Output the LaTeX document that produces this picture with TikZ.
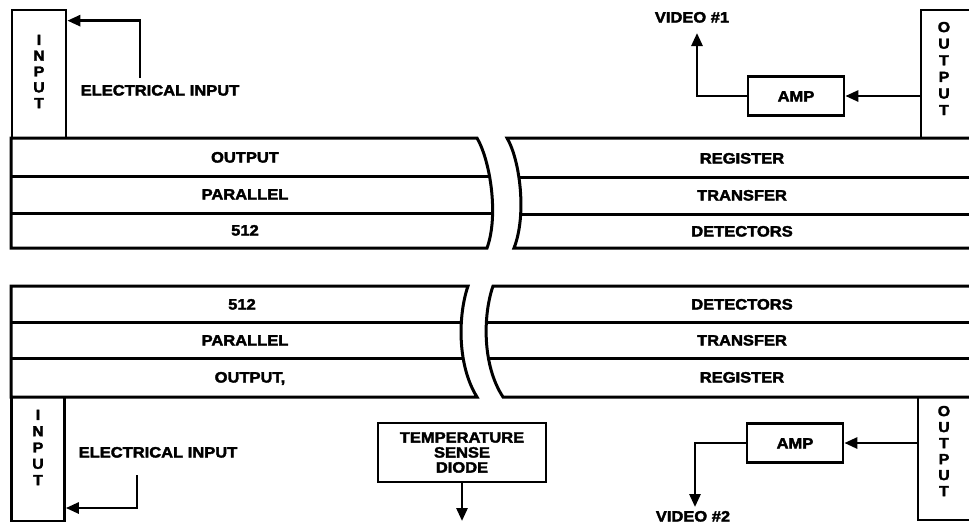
\documentclass[tikz,border=0pt]{standalone}
\usepackage{fontspec}
\setmainfont{Liberation Sans}[FakeStretch=1.1, BoldFeatures={FakeBold=2.5}]
\usetikzlibrary{arrows.meta}
\begin{document}
\begin{tikzpicture}[x=1pt,y=-1pt,
  ln/.style={line width=3pt},
  boxn/.style={draw, line width=2.7pt, inner sep=0pt},
  lbl/.style={font=\fontsize{15}{16}\selectfont\bfseries, inner sep=0pt, text height=11pt, text depth=0pt},
  stack/.style={font=\fontsize{14.5}{#1}\selectfont\bfseries, align=center, inner sep=0pt},
  arr/.style={line width=2.7pt, -{Triangle[length=13pt,width=11pt]}}]
\useasboundingbox (0,0) rectangle (969,523);
\fill[white] (0,0) rectangle (969,523);

% ---------- top block, left part
\begin{scope}
\clip (11,138) -- (477,138) .. controls (490,160) and (499,215) .. (487,248) -- (11,248) -- cycle;
\draw[ln] (0,176) -- (520,176) (0,213) -- (520,213);
\end{scope}
\draw[ln] (11,138) -- (477,138) .. controls (490,160) and (499,215) .. (487,248) -- (11,248) -- cycle;
% ---------- top block, right part
\begin{scope}
\clip (980,138) -- (507,138) .. controls (520,160) and (527,215) .. (514,248) -- (980,248) -- cycle;
\draw[ln] (490,177) -- (980,177) (490,214) -- (980,214);
\end{scope}
\draw[ln] (980,138) -- (507,138) .. controls (520,160) and (527,215) .. (514,248) -- (980,248);

% ---------- bottom block, left part
\begin{scope}
\clip (11,286) -- (468,286) .. controls (458,315) and (457,365) .. (477,397) -- (11,397) -- cycle;
\draw[ln] (0,322) -- (500,322) (0,358) -- (500,358);
\end{scope}
\draw[ln] (11,286) -- (468,286) .. controls (458,315) and (457,365) .. (477,397) -- (11,397) -- cycle;
% ---------- bottom block, right part
\begin{scope}
\clip (980,286) -- (493,286) .. controls (483,315) and (482,365) .. (503,397) -- (980,397) -- cycle;
\draw[ln] (470,322) -- (980,322) (470,358) -- (980,358);
\end{scope}
\draw[ln] (980,286) -- (493,286) .. controls (483,315) and (482,365) .. (503,397) -- (980,397);

% ---------- row texts
\node[lbl] (ta1) at (245,157) {OUTPUT};
\node[lbl] (ta2) at (245,194) {PARALLEL};
\node[lbl] (ta3) at (245,230) {512};
\node[lbl] (tb1) at (742,158) {REGISTER};
\node[lbl] (tb2) at (742,195) {TRANSFER};
\node[lbl] (tb3) at (742,231) {DETECTORS};
\node[lbl] (tc1) at (242,304) {512};
\node[lbl] (tc2) at (245,340) {PARALLEL};
\node[lbl] (tc3) at (250,377) {OUTPUT,};
\node[lbl] (td1) at (742,304) {DETECTORS};
\node[lbl] (td2) at (742,340) {TRANSFER};
\node[lbl] (td3) at (742,377) {REGISTER};

% ---------- top input / output
\node[boxn, minimum width=54pt, minimum height=128pt] (in1) at (39,74) {};
\node[stack=15.8] (in1t) at (39,71.5) {I\\N\\P\\U\\T};
\node[lbl] (ei1l) at (160,90) {ELECTRICAL INPUT};
\coordinate (ei1) at (140,78);
\draw[arr] (ei1) |- ([yshift=-12pt]in1.north east);

\node[boxn, minimum width=58pt, minimum height=128pt] (out1) at (950,74) {};
\node[stack=16.6] (out1t) at (944,68.5) {O\\U\\T\\P\\U\\T};
\node[boxn, minimum width=96pt, minimum height=39pt] (amp1) at (796,96) {};
\node[lbl] (amp1t) at (amp1) {AMP};
\draw[arr] (out1.west |- amp1.east) -- (amp1.east);
\coordinate (v1tip) at (697,33);
\draw[arr] (amp1.west) -| (v1tip);
\node[lbl] (v1) at (692,17) {VIDEO \#1};

% ---------- bottom input / output
\node[boxn, minimum width=53pt, minimum height=124pt] (in2) at (38,459) {};
\node[stack=16.3] (in2t) at (38,447.5) {I\\N\\P\\U\\T};
\node[lbl] (ei2l) at (158,452) {ELECTRICAL INPUT};
\coordinate (ei2) at (137,475);
\draw[arr] (ei2) |- ([yshift=-49pt]in2.east);

\node[boxn, minimum width=168pt, minimum height=59pt, align=center,
      font=\fontsize{15}{15}\selectfont\bfseries] (temp) at (462,452.5) {TEMPERATURE\\SENSE\\DIODE};
\coordinate (ttip) at (462,521);
\draw[arr] (temp.south) -- (ttip);

\node[boxn, minimum width=58pt, minimum height=123pt] (out2) at (947,458.5) {};
\node[stack=16] (out2t) at (944,451) {O\\U\\T\\P\\U\\T};
\node[boxn, minimum width=96pt, minimum height=39pt] (amp2) at (795,443) {};
\node[lbl] (amp2t) at (amp2) {AMP};
\draw[arr] (out2.west |- amp2.east) -- (amp2.east);
\coordinate (v2tip) at (695,507);
\draw[arr] (amp2.west) -| (v2tip);
\node[lbl] (v2) at (693,516) {VIDEO \#2};
\end{tikzpicture}
\end{document}
